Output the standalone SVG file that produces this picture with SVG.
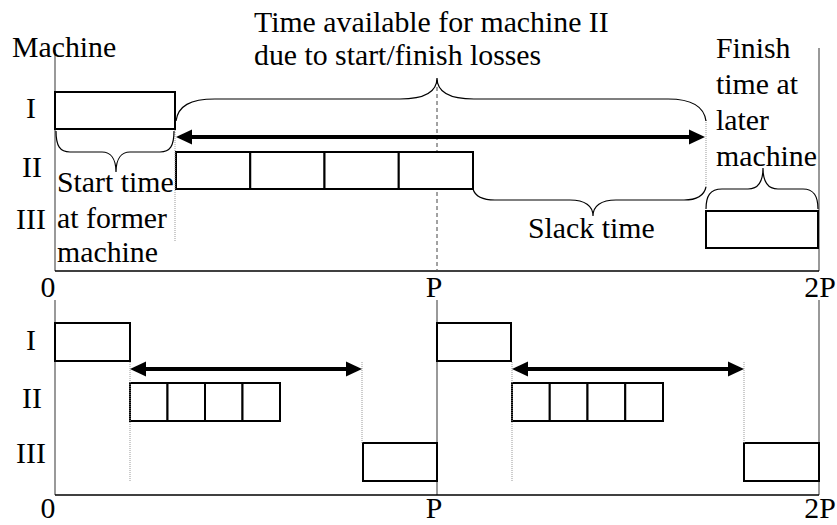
<svg xmlns="http://www.w3.org/2000/svg" width="837" height="525" viewBox="0 0 837 525">
<defs>
<style>
.t{font-family:"Liberation Serif","Times New Roman",serif;font-size:29.8px;fill:#000}
.m{text-anchor:middle}
.box{fill:#fff;stroke:#000;stroke-width:2}
.ax{stroke:#777;stroke-width:1.5;fill:none}
.hx{stroke:#000;stroke-width:1.5;fill:none}
.dot{stroke:#999;stroke-width:1;stroke-dasharray:1 1;fill:none}
.dash{stroke:#444;stroke-width:1;stroke-dasharray:4 3;fill:none}
.br{stroke:#000;stroke-width:1.2;fill:none}
.arr{stroke:#000;stroke-width:4;fill:none;marker-start:url(#ah);marker-end:url(#ah)}
</style>
<marker id="ah" markerUnits="userSpaceOnUse" markerWidth="17" markerHeight="17" refX="12" refY="8" orient="auto-start-reverse" viewBox="0 0 17 17">
<path d="M0,0.5 L16,8 L0,15.5 z" fill="#000"/>
</marker>
</defs>
<rect width="837" height="525" fill="#fff"/>

<g id="axes">
<line class="ax" x1="55" y1="50" x2="55" y2="271"/>
<line class="ax" x1="819" y1="48" x2="819" y2="271"/>
<line class="hx" x1="55" y1="271" x2="819" y2="271"/>
<line class="dash" x1="437" y1="80" x2="437" y2="271"/>
<line class="ax" x1="55" y1="300" x2="55" y2="495"/>
<line class="ax" x1="437" y1="300" x2="437" y2="495"/>
<line class="ax" x1="819" y1="300" x2="819" y2="495"/>
<line class="hx" x1="55" y1="495" x2="819" y2="495"/>
</g>

<g id="labels">
<text class="t" x="12" y="57">Machine</text>
<text class="t" x="254" y="32">Time available for machine II</text>
<text class="t" x="254" y="65">due to start/finish losses</text>
<text class="t" x="716" y="58">Finish</text>
<text class="t" x="716" y="94">time at</text>
<text class="t" x="716" y="130">later</text>
<text class="t" x="716" y="166">machine</text>
<text class="t" x="57" y="192">Start time</text>
<text class="t" x="57" y="228">at former</text>
<text class="t" x="57" y="262">machine</text>
<text class="t" x="528" y="238">Slack time</text>
<text class="t m" x="31" y="118">I</text>
<text class="t m" x="32" y="177">II</text>
<text class="t m" x="31" y="229">III</text>
<text class="t m" x="31" y="350">I</text>
<text class="t m" x="32" y="408">II</text>
<text class="t m" x="31" y="463">III</text>
<text class="t m" x="48" y="297">0</text>
<text class="t m" x="434" y="297">P</text>
<text class="t m" x="820" y="297">2P</text>
<text class="t m" x="48" y="518">0</text>
<text class="t m" x="434" y="518">P</text>
<text class="t m" x="820" y="518">2P</text>
</g>

<g id="top-machine-I"><rect class="box" x="55" y="92" width="120" height="37"/></g>
<g id="top-machine-II">
<rect class="box" x="176" y="152" width="74.25" height="37"/>
<rect class="box" x="250.25" y="152" width="74.25" height="37"/>
<rect class="box" x="324.5" y="152" width="74.25" height="37"/>
<rect class="box" x="398.75" y="152" width="74.25" height="37"/>
</g>
<g id="top-machine-III"><rect class="box" x="706" y="211" width="112" height="37"/></g>

<g id="bottom-machine-I-1"><rect class="box" x="55" y="323" width="75" height="38"/></g>
<g id="bottom-machine-II-1">
<rect class="box" x="130" y="383" width="37.5" height="38"/>
<rect class="box" x="167.5" y="383" width="37.5" height="38"/>
<rect class="box" x="205" y="383" width="37.5" height="38"/>
<rect class="box" x="242.5" y="383" width="37.5" height="38"/>
</g>
<g id="bottom-machine-III-1"><rect class="box" x="363" y="443" width="74" height="38"/></g>
<g id="bottom-machine-I-2"><rect class="box" x="437" y="323" width="74" height="38"/></g>
<g id="bottom-machine-II-2">
<rect class="box" x="512" y="383" width="37.75" height="38"/>
<rect class="box" x="549.75" y="383" width="37.75" height="38"/>
<rect class="box" x="587.5" y="383" width="37.75" height="38"/>
<rect class="box" x="625.25" y="383" width="37.75" height="38"/>
</g>
<g id="bottom-machine-III-2"><rect class="box" x="744" y="443" width="75" height="38"/></g>

<g id="connectors">
<line class="dot" x1="175" y1="130" x2="175" y2="241"/>
<line class="dot" x1="706" y1="120" x2="706" y2="188"/>
<line class="dot" x1="130" y1="362" x2="130" y2="481"/>
<line class="dot" x1="362" y1="362" x2="362" y2="443"/>
<line class="dot" x1="512" y1="362" x2="512" y2="481"/>
<line class="dot" x1="744" y1="362" x2="744" y2="443"/>
<path class="br" d="M56,131 C56,146 60,152 70,152 L102,152 C110,152 116,158 116,172 C116,158 122,152 130,152 L160,152 C170,152 174,146 174,131"/>
<path class="br" d="M176,121 C178,106 190,99 215,99 L400,99 C425,99 437,92 437,78 C437,92 449,99 474,99 L668,99 C692,99 704,106 706,121"/>
<path class="br" d="M473,189 C475,196 482,200 495,200 L570,200 C585,200 593,206 593,216 C593,206 601,200 616,200 L684,200 C697,200 704,196 706,187"/>
<path class="br" d="M706,209 C706,196 710,189 722,189 L748,189 C758,189 763,182 763,168 C763,182 768,189 778,189 L803,189 C814,189 818,196 818,209"/>
<line class="arr" x1="180" y1="137" x2="701" y2="137"/>
<line class="arr" x1="134" y1="369" x2="358" y2="369"/>
<line class="arr" x1="516" y1="369" x2="740" y2="369"/>
</g>
</svg>
